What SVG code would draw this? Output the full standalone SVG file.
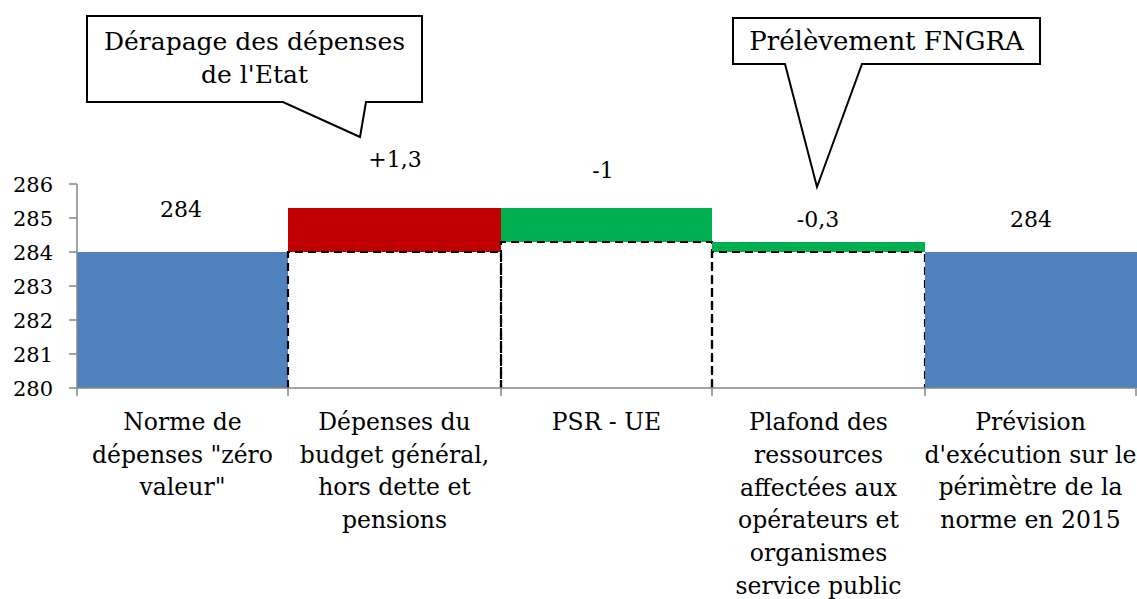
<svg xmlns="http://www.w3.org/2000/svg" width="1137" height="599" viewBox="0 0 1137 599">
<style>
  text { font-family: "DejaVu Serif", "Liberation Serif", serif; fill: #000; }
  .ax { font-size: 21px; text-anchor: end; }
  .dl { font-size: 22px; text-anchor: middle; }
  .cat { font-size: 23.5px; text-anchor: middle; }
  .co { font-size: 25px; text-anchor: middle; }
  .axis { stroke: #868686; stroke-width: 1.5; fill: none; }
  .dash { fill: none; stroke: #000; stroke-width: 2.2; stroke-dasharray: 8 5; }
  .callout { fill: #fff; stroke: #000; stroke-width: 2; stroke-linejoin: miter; }
</style>
<rect width="1137" height="599" fill="#fff"/>

<g id="bar1">
  <rect x="77" y="252" width="211" height="136" fill="#4F81BD"/>
  <text class="dl" x="181" y="217">284</text>
  <text class="cat" x="182.5" y="430">Norme de</text>
  <text class="cat" x="182.5" y="462.5">dépenses "zéro</text>
  <text class="cat" x="182.5" y="495">valeur"</text>
</g>

<g id="bar2">
  <rect x="288" y="208" width="213" height="44" fill="#C00000"/>
  <path class="dash" d="M288,388 V252 H501 V388"/>
  <text class="dl" x="395" y="167">+1,3</text>
  <text class="cat" x="394.5" y="430">Dépenses du</text>
  <text class="cat" x="394.5" y="462.5">budget général,</text>
  <text class="cat" x="394.5" y="495">hors dette et</text>
  <text class="cat" x="394.5" y="527.5">pensions</text>
</g>

<g id="bar3">
  <rect x="501" y="208" width="211" height="34" fill="#00B050"/>
  <path class="dash" d="M501,388 V242 H712 V388"/>
  <text class="dl" x="603" y="178">-1</text>
  <text class="cat" x="606.5" y="430">PSR - UE</text>
</g>

<g id="bar4">
  <rect x="712" y="242" width="213" height="10" fill="#00B050"/>
  <path class="dash" d="M712,388 V252 H925 V388"/>
  <text class="dl" x="818" y="227">-0,3</text>
  <text class="cat" x="818.5" y="430">Plafond des</text>
  <text class="cat" x="818.5" y="463">ressources</text>
  <text class="cat" x="818.5" y="495.5">affectées aux</text>
  <text class="cat" x="818.5" y="528">opérateurs et</text>
  <text class="cat" x="818.5" y="561">organismes</text>
  <text class="cat" x="818.5" y="594">service public</text>
</g>

<g id="bar5">
  <rect x="925" y="252" width="212" height="136" fill="#4F81BD"/>
  <text class="dl" x="1031" y="227">284</text>
  <text class="cat" x="1030.5" y="430">Prévision</text>
  <text class="cat" x="1030.5" y="462.5">d'exécution sur le</text>
  <text class="cat" x="1030.5" y="495">périmètre de la</text>
  <text class="cat" x="1030.5" y="527.5">norme en 2015</text>
</g>

<g id="axes">
  <path class="axis" d="M77,184 V388 H1136"/>
  <path class="axis" d="M69,184 H77 M69,218 H77 M69,252 H77 M69,286 H77 M69,320 H77 M69,354 H77 M69,388 H77"/>
  <path class="axis" d="M77,388 V396 M288,388 V396 M501,388 V396 M712,388 V396 M925,388 V396 M1136,388 V396"/>
  <text class="ax" x="53" y="192">286</text>
  <text class="ax" x="53" y="226">285</text>
  <text class="ax" x="53" y="260">284</text>
  <text class="ax" x="53" y="294">283</text>
  <text class="ax" x="53" y="328">282</text>
  <text class="ax" x="53" y="362">281</text>
  <text class="ax" x="53" y="396">280</text>
</g>

<g id="callout-derapage">
  <path class="callout" d="M87,16 H422 V102 H366 L360,137 L283,102 H87 Z"/>
  <text class="co" x="254.5" y="50">Dérapage des dépenses</text>
  <text class="co" x="254.5" y="83">de l'Etat</text>
</g>

<g id="callout-fngra">
  <path class="callout" d="M733,18 H1040 V64 H862 L817,187 L785,64 H733 Z"/>
  <text class="co" x="886.5" y="50" style="font-size:26px">Prélèvement FNGRA</text>
</g>
</svg>
